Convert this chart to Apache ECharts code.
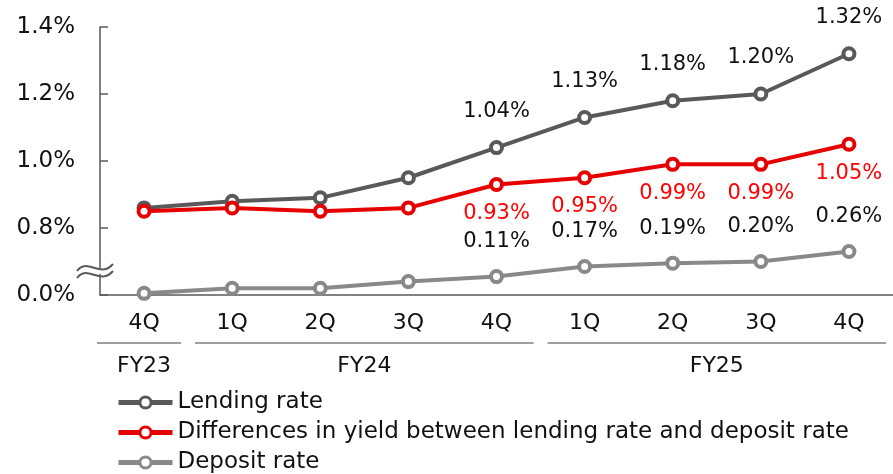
<!DOCTYPE html>
<html>
<head>
<meta charset="utf-8">
<script src="https://cdn.jsdelivr.net/npm/echarts@6/dist/echarts.min.js"></script>
<style>
  html, body { margin: 0; padding: 0; background: #fff; }
  #chart { width: 893px; height: 474px; }
</style>
</head>
<body>
<div id="chart"></div>
<script>
  const quarters = ['4Q', '1Q', '2Q', '3Q', '4Q', '1Q', '2Q', '3Q', '4Q']
  const fiscalYears = ['FY23', 'FY24', 'FY25']
  const fiscalSpans = [[0, 0], [1, 4], [5, 8]]
  const lendingRate = [0.86, 0.88, 0.89, 0.95, 1.04, 1.13, 1.18, 1.20, 1.32]
  const yieldDiff = [0.85, 0.86, 0.85, 0.86, 0.93, 0.95, 0.99, 0.99, 1.05]
  const depositRate = [0.01, 0.04, 0.04, 0.08, 0.11, 0.17, 0.19, 0.20, 0.26]
  const yTickLabels = ['0.0%', '0.8%', '1.0%', '1.2%', '1.4%']

  const FONT = 'DejaVu Sans'
  const AXIS_GRAY = '#595959'
  const firstLabelIdx = 4

  const chart = echarts.init(document.getElementById('chart'))

  const pctLabel = (p) => (p.dataIndex >= firstLabelIdx ? p.value.toFixed(2) + '%' : '')

  function lineSeries(name, data, color, yAxisIndex, labelPos, labelColor, dist) {
    return {
      name,
      type: 'line',
      data,
      yAxisIndex,
      symbol: 'circle',
      symbolSize: 11,
      showAllSymbol: true,
      lineStyle: { color, width: 4 },
      itemStyle: { color: '#fff', borderColor: color, borderWidth: 4 },
      label: {
        show: true,
        position: labelPos,
        distance: dist,
        formatter: pctLabel,
        color: labelColor,
        fontFamily: FONT,
        fontSize: 21,
      },
      emphasis: { disabled: true },
      z: 3,
    }
  }

  const option = {
    animation: false,
    grid: { left: 100, right: -8, top: 27, bottom: 179 },
    legend: {
      orient: 'vertical',
      left: 116,
      top: 391,
      padding: 0,
      itemWidth: 54,
      itemHeight: 14,
      itemGap: 7,
      lineStyle: { width: 5 },
      itemStyle: { borderWidth: 3 },
      textStyle: { fontFamily: FONT, fontSize: 23, color: '#111' },
      data: ['Lending rate', 'Differences in yield between lending rate and deposit rate', 'Deposit rate'],
    },
    xAxis: {
      type: 'category',
      data: quarters,
      axisLine: { lineStyle: { color: AXIS_GRAY, width: 1.5 } },
      axisTick: { show: false },
      axisLabel: { color: '#111', fontFamily: FONT, fontSize: 22, margin: 17 },
    },
    yAxis: [
      {
        type: 'value',
        min: 0.6,
        max: 1.4,
        interval: 0.2,
        splitLine: { show: false },
        axisLine: { show: true, lineStyle: { color: AXIS_GRAY, width: 1.5 } },
        axisTick: { show: true, inside: true, length: 8, lineStyle: { color: AXIS_GRAY, width: 1.5 } },
        axisLabel: {
          color: '#111',
          fontFamily: FONT,
          fontSize: 23,
          margin: 25,
          formatter: (v) => yTickLabels[Math.round((v - 0.6) / 0.2)],
        },
      },
      {
        type: 'value',
        min: 0,
        max: 1.6,
        show: false,
        splitLine: { show: false },
      },
    ],
    series: [
      lineSeries('Lending rate', lendingRate, '#595959', 0, 'top', '#111', 18),
      lineSeries('Differences in yield between lending rate and deposit rate', yieldDiff, '#e60000', 0, 'bottom', '#ff0000', 11),
      lineSeries('Deposit rate', depositRate, '#898989', 1, 'top', '#111', 17),
    ],
  }

  chart.setOption(option)

  // fiscal year brackets under the quarter labels, placed through the category scale
  const px = (i) => chart.convertToPixel({ xAxisIndex: 0 }, i)
  const step = px(1) - px(0)
  const axisY = chart.convertToPixel({ yAxisIndex: 0 }, 0.6)
  const graphics = []
  fiscalSpans.forEach(([a, b], k) => {
    const x1 = a === 0 ? px(a) - step / 2 - 3 : px(a) - step / 2 + 7
    const x2 = px(b) + step / 2 - 7
    graphics.push({
      type: 'line',
      shape: { x1, y1: axisY + 48, x2, y2: axisY + 48 },
      style: { stroke: '#7f7f7f', lineWidth: 1.5 },
    })
    graphics.push({
      type: 'text',
      x: (px(a) + px(b)) / 2,
      y: axisY + 71,
      style: {
        text: fiscalYears[k],
        font: '22px "' + FONT + '"',
        fill: '#111',
        align: 'center',
        verticalAlign: 'middle',
      },
    })
  })

  // axis break mark
  const bx = px(0) - step / 2
  const by = axisY - 25
  const wave = (dy) => ({
    type: 'bezierCurve',
    shape: { x1: bx - 23, y1: by + dy + 4, cpx1: bx - 12, cpy1: by + dy - 10, cpx2: bx + 0, cpy2: by + dy + 12, x2: bx + 13, y2: by + dy - 3 },
    style: { stroke: AXIS_GRAY, lineWidth: 2, fill: null },
    z: 10,
  })
  graphics.push({
    type: 'rect',
    shape: { x: bx - 3, y: by - 1, width: 6, height: 5 },
    style: { fill: '#fff' },
    z: 9,
  })
  graphics.push(wave(-3))
  graphics.push(wave(4))

  chart.setOption({ graphic: graphics })
</script>
</body>
</html>
